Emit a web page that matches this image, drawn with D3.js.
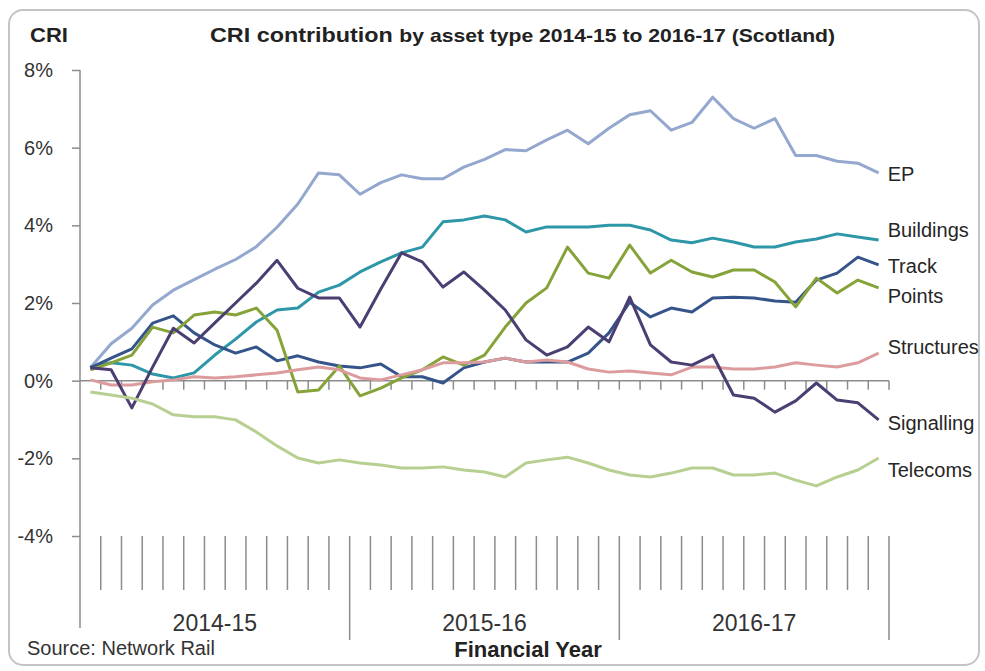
<!DOCTYPE html>
<html lang="en">
    <head>
        <meta charset="utf-8">
        <title>CRI contribution by asset type</title>
        <style>
            body {
                margin: 0;
                background-color: white;
                font-family: "Liberation Sans", Arial, sans-serif;
            }
            .axis path, .axis line {
                stroke: #8c8c8c;
                stroke-width: 1.5;
            }
            .axis text {
                font-size: 20px;
                fill: #333;
            }
            .series {
                fill: none;
                stroke-width: 3;
                stroke-linejoin: round;
            }
            .label {
                font-size: 20px;
                fill: #262626;
            }
        </style>
    </head>
    <body>
        <svg width="985" height="671"></svg>
        <script src="https://d3js.org/d3.v7.min.js"></script>
        <script>

            // financial years, 13 four-weekly periods each
            var years = ["2014-15", "2015-16", "2016-17"];
            var periods = ["P01", "P02", "P03", "P04", "P05", "P06", "P07", "P08", "P09", "P10", "P11", "P12", "P13"];
            var yTicks = [-4, -2, 0, 2, 4, 6, 8];

            // CRI contribution, %
            var ep = [0.33, 0.95, 1.35, 1.95, 2.33, 2.6, 2.87, 3.12, 3.45, 3.95, 4.55, 5.35, 5.3,
                      4.8, 5.1, 5.3, 5.2, 5.2, 5.5, 5.7, 5.95, 5.92, 6.2, 6.45, 6.1, 6.5,
                      6.85, 6.95, 6.45, 6.65, 7.3, 6.75, 6.5, 6.75, 5.8, 5.8, 5.65, 5.6, 5.35];
            var buildings = [0.35, 0.46, 0.4, 0.17, 0.07, 0.2, 0.66, 1.07, 1.51, 1.82, 1.87, 2.28, 2.46,
                      2.8, 3.06, 3.29, 3.44, 4.09, 4.14, 4.24, 4.14, 3.83, 3.96, 3.96, 3.96, 4.0,
                      4.0, 3.88, 3.62, 3.55, 3.67, 3.57, 3.44, 3.44, 3.57, 3.65, 3.78, 3.7, 3.62];
            var track = [0.33, 0.58, 0.82, 1.48, 1.67, 1.23, 0.92, 0.71, 0.87, 0.51, 0.64, 0.48, 0.38,
                      0.33, 0.43, 0.1, 0.1, -0.06, 0.33, 0.48, 0.58, 0.48, 0.48, 0.48, 0.71, 1.23,
                      2.02, 1.64, 1.87, 1.77, 2.13, 2.15, 2.13, 2.05, 2.02, 2.59, 2.77, 3.18, 2.98];
            var points = [0.28, 0.46, 0.66, 1.38, 1.23, 1.69, 1.77, 1.69, 1.87, 1.3, -0.29, -0.24, 0.38,
                      -0.39, -0.19, 0.07, 0.28, 0.61, 0.4, 0.66, 1.38, 2.0, 2.39, 3.44, 2.77, 2.64,
                      3.49, 2.77, 3.1, 2.8, 2.67, 2.85, 2.85, 2.54, 1.9, 2.64, 2.26, 2.59, 2.39];
            var structures = [0.02, -0.11, -0.11, -0.03, 0.02, 0.1, 0.07, 0.1, 0.15, 0.2, 0.28, 0.35, 0.28,
                      0.07, 0.02, 0.15, 0.28, 0.46, 0.46, 0.48, 0.58, 0.48, 0.53, 0.48, 0.3, 0.22,
                      0.25, 0.2, 0.15, 0.35, 0.35, 0.3, 0.3, 0.35, 0.46, 0.4, 0.35, 0.46, 0.71];
            var signalling = [0.33, 0.28, -0.7, 0.35, 1.35, 0.97, 1.49, 2.0, 2.51, 3.1, 2.38, 2.13, 2.13,
                      1.38, 2.36, 3.29, 3.06, 2.41, 2.8, 2.33, 1.82, 1.05, 0.66, 0.87, 1.38, 1.0,
                      2.15, 0.92, 0.48, 0.4, 0.66, -0.37, -0.45, -0.81, -0.52, -0.06, -0.5, -0.57, -1.01];
            var telecoms = [-0.29, -0.37, -0.45, -0.6, -0.88, -0.93, -0.93, -1.01, -1.32, -1.68, -1.99, -2.12, -2.04,
                      -2.12, -2.17, -2.25, -2.25, -2.22, -2.3, -2.35, -2.48, -2.12, -2.04, -1.97, -2.12, -2.3,
                      -2.43, -2.48, -2.38, -2.25, -2.25, -2.43, -2.43, -2.38, -2.56, -2.71, -2.48, -2.3, -1.99];

            var series = [
                {name: "EP",         values: ep,         color: "#93a7cf", ly: 174},
                {name: "Buildings",  values: buildings,  color: "#2d97a8", ly: 230},
                {name: "Track",      values: track,      color: "#34548a", ly: 266},
                {name: "Points",     values: points,     color: "#86a33a", ly: 296},
                {name: "Structures", values: structures, color: "#dc9c9e", ly: 347},
                {name: "Signalling", values: signalling, color: "#4a3e72", ly: 423},
                {name: "Telecoms",   values: telecoms,   color: "#b8cf92", ly: 470}
            ];

            var categories = [];
            years.forEach(function(yr) {
                periods.forEach(function(p) { categories.push(yr + " " + p); });
            });

            var svg = d3.select("svg");

            // frame
            svg.append("rect")
                .attr("x", 9).attr("y", 10)
                .attr("width", 970).attr("height", 655)
                .attr("rx", 14)
                .style("fill", "white")
                .style("stroke", "#c4c4c4")
                .style("stroke-width", 2);

            var x = d3.scaleBand().domain(categories).range([80, 889]);
            var y = d3.scaleLinear().domain([-4, 8]).range([536, 70]);
            var cx = function(i) { return x(categories[i]) + x.bandwidth() / 2; };

            // y axis
            var yAxis = svg.append("g")
                .attr("class", "axis")
                .attr("transform", "translate(80,0)")
                .call(d3.axisLeft(y).tickValues(yTicks).tickSize(8).tickPadding(19)
                        .tickFormat(function(d) { return d + "%"; }));
            yAxis.select(".domain").remove();
            yAxis.append("line")
                .attr("x1", 0).attr("x2", 0)
                .attr("y1", y(8)).attr("y2", 628);

            // zero line with small ticks
            var zero = svg.append("g").attr("class", "axis");
            zero.append("line")
                .attr("x1", 80).attr("x2", 889)
                .attr("y1", y(0)).attr("y2", y(0));
            zero.selectAll(".zt").data(categories).enter()
              .append("line")
                .attr("x1", function(d) { return x(d) + x.bandwidth(); })
                .attr("x2", function(d) { return x(d) + x.bandwidth(); })
                .attr("y1", y(0))
                .attr("y2", y(0) + 9);

            // category ticks at the bottom
            var bottom = svg.append("g").attr("class", "axis");
            bottom.selectAll(".bt").data(categories).enter()
              .append("line")
                .attr("x1", function(d) { return x(d) + x.bandwidth(); })
                .attr("x2", function(d) { return x(d) + x.bandwidth(); })
                .attr("y1", y(-4))
                .attr("y2", function(d, i) { return (i + 1) % 13 === 0 ? 640 : 590; });

            bottom.selectAll(".yr").data(years).enter()
              .append("text")
                .attr("x", function(d, i) { return (x(categories[i * 13]) + x(categories[i * 13 + 12]) + x.bandwidth()) / 2; })
                .attr("y", 631)
                .attr("text-anchor", "middle")
                .style("font-size", "23px")
                .style("fill", "#333")
                .text(function(d) { return d; });

            // lines
            var line = d3.line()
                .x(function(d, i) { return cx(i); })
                .y(function(d) { return y(d); });

            svg.selectAll(".series").data(series).enter()
              .append("path")
                .attr("class", "series")
                .attr("d", function(d) { return line(d.values); })
                .style("stroke", function(d) { return d.color; });

            svg.selectAll(".label").data(series).enter()
              .append("text")
                .attr("class", "label")
                .attr("x", function(d) { return cx(38) + 9; })
                .attr("y", function(d) { return d.ly; })
                .attr("dy", "0.35em")
                .text(function(d) { return d.name; });

            // titles
            svg.append("text")
                .attr("x", 30).attr("y", 42)
                .style("font-weight", "bold")
                .style("font-size", "20px")
                .style("fill", "#222")
                .attr("textLength", 38)
                .attr("lengthAdjust", "spacingAndGlyphs")
                .text("CRI");

            var title = svg.append("text")
                .attr("x", 210).attr("y", 42)
                .style("font-weight", "bold")
                .style("fill", "#222")
                .attr("textLength", 625)
                .attr("lengthAdjust", "spacingAndGlyphs");
            title.append("tspan").style("font-size", "21px").text("CRI contribution ");
            title.append("tspan").style("font-size", "19px").text("by asset type 2014-15  to 2016-17  (Scotland)");

            svg.append("text")
                .attr("x", 27).attr("y", 655)
                .style("font-size", "20px")
                .style("fill", "#333")
                .text("Source: Network Rail");

            svg.append("text")
                .attr("x", 528).attr("y", 657)
                .attr("text-anchor", "middle")
                .style("font-size", "22px")
                .style("font-weight", "bold")
                .style("fill", "#222")
                .text("Financial Year");
        </script>
    </body>
</html>
